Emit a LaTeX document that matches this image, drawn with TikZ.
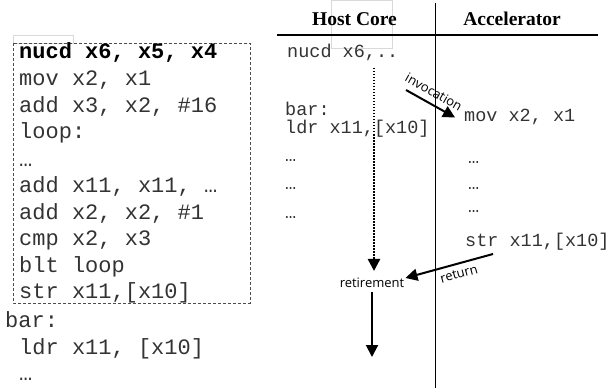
\documentclass[tikz,border=0pt]{standalone}
\usepackage{fontspec}
\setmainfont{Liberation Serif}
\setmonofont{Liberation Mono}
\newfontfamily\notefont{Open Sans}
\usetikzlibrary{arrows.meta}
\tikzset{
  code/.style={anchor=base west, inner sep=0pt, text=black!80,
    font=\fontsize{22}{26}\selectfont\ttfamily},
  smallcode/.style={anchor=base west, inner sep=0pt, text=black!80,
    font=\fontsize{18.5}{22}\selectfont\ttfamily},
  head/.style={anchor=base, inner sep=0pt, font=\fontsize{19.5}{23}\selectfont\bfseries},
  note/.style={inner sep=1pt, font=\fontsize{13}{15}\selectfont\notefont},
  flow/.style={line width=2pt, -{Triangle[width=12pt,length=12pt]}},
  ghost/.style={draw=gray!30, line width=0.6pt}
}
\begin{document}
\begin{tikzpicture}[x=1pt,y=-1pt]
  \useasboundingbox (0,0) rectangle (609,390);
  \draw[ghost] (13,35) rectangle (73,43);
  \draw[ghost] (331,0) rectangle (392,48);
  \draw[black!70, dash pattern=on 3pt off 2pt, line width=0.8pt] (13,43) rectangle (250,303);
  \node[code, text=black, font=\fontsize{22}{26}\selectfont\ttfamily\bfseries] (c1) at (19,59) {nucd x6, x5, x4};
  \foreach \i/\x/\y/\txt in {
    2/19/86/{mov x2, x1},
    3/19/112.5/{add x3, x2, \#16},
    4/19/139/{loop:},
    5/19/166/{…},
    6/19/192/{add x11, x11, …},
    7/19/219/{add x2, x2, \#1},
    8/19/245.5/{cmp x2, x3},
    9/19/272/{blt loop},
    10/19/298.5/{str x11,[x10]},
    11/5/327/{bar:},
    12/19/354/{ldr x11, [x10]},
    13/19/380/{…}} {
    \node[code] (c\i) at (\x,\y) {\txt};
  }
  \node[head] (host) at (354.5,26) {Host Core};
  \node[head] (acc) at (512,26) {Accelerator};
  \draw[line width=1.8pt] (277,35) -- (598,35);
  \draw[line width=1.8pt] (435.5,3) -- (435.5,388);
  \foreach \n/\x/\y/\txt in {
    h1/287/58/{nucd x6,..},
    h2/285/116/{bar:},
    h3/285/134/{ldr x11,[x10]},
    h4/285/161/{…},
    h5/285/189/{…},
    h6/285/218/{…},
    a2/468/164/{…},
    a3/468/189/{…},
    a4/468/212/{…}} {
    \node[smallcode] (\n) at (\x,\y) {\txt};
  }
  \node[smallcode] (mov) at (464,122) {mov x2, x1};
  \node[smallcode] (str) at (465,246) {str x11,[x10]};
  \node[note] (ret) at (372,283) {retirement};
  \coordinate (dtop) at (374,68);
  \coordinate (inv) at (406,90);
  \coordinate (back) at (493,254);
  \coordinate (rend) at (372,357);
  \draw[flow, line width=2.5pt, dash pattern=on 1.5pt off 1.5pt, shorten >=6pt] (dtop) -- (dtop |- ret.north);
  \draw[flow, shorten <=3pt] (ret.south) -- (rend);
  \draw[flow] (inv) -- node[note, above=5pt, sloped, pos=0.45] (invlab) {invocation} ([xshift=-9pt]mov.west);
  \draw[flow] (back) -- node[note, below=4pt, sloped, pos=0.42] (retlab) {return} ([yshift=5pt]ret.east);
\end{tikzpicture}
\end{document}
